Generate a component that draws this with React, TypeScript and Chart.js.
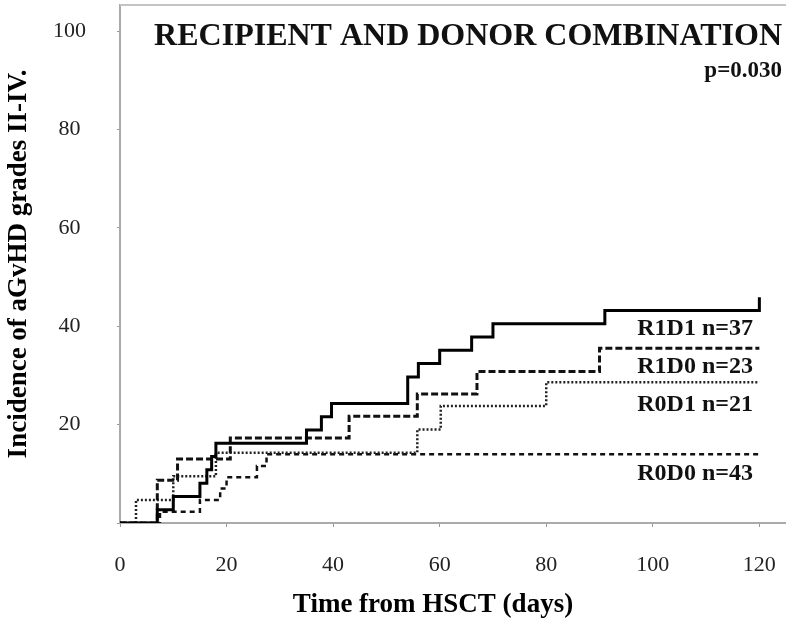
import React, { useEffect, useRef } from "react";
import { Chart, registerables } from "chart.js";

Chart.register(...registerables);

// ---- data ----
const r1d1Days = [0, 7, 10, 15, 16.3, 17.2, 18, 35, 37.8, 39.7, 54, 56, 60, 66, 70, 91, 120];
const r1d1Inc = [0, 2.7, 5.4, 8.1, 10.8, 13.5, 16.2, 18.9, 21.6, 24.3, 29.7, 32.4, 35.1, 37.8, 40.5, 43.2, 45.9];

const r1d0Days = [0, 7, 10.8, 20.7, 43, 55.8, 67, 90, 120];
const r1d0Inc = [0, 8.7, 13.0, 17.3, 21.7, 26.2, 30.8, 35.5, 35.5];

const r0d1Days = [0, 3, 10, 18, 55.8, 60.2, 80, 120];
const r0d1Inc = [0, 4.7, 9.5, 14.3, 19.0, 23.8, 28.6, 28.6];

const r0d0Days = [0, 7.5, 15, 18.8, 20, 25.7, 27.5, 120];
const r0d0Inc = [0, 2.3, 4.7, 7.0, 9.3, 11.6, 14.0, 14.0];

const seriesNames = ["R1D1 n=37", "R1D0 n=23", "R0D1 n=21", "R0D0 n=43"];
const seriesLabelY = [38.2, 30.5, 22.8, 8.7];
const seriesLabelX = 118.8;

const xTicks = [0, 20, 40, 60, 80, 100, 120];
const yTicks = [0, 20, 40, 60, 80, 100];

const chartTitle = "RECIPIENT AND DONOR COMBINATION";
const pValue = "p=0.030";
const xTitle = "Time from HSCT (days)";
const yTitle = "Incidence of aGvHD grades II-IV.";

const FONT = "'Liberation Serif', 'Times New Roman', serif";

const toPts = (xs: number[], ys: number[]) => xs.map((x, i) => ({ x, y: ys[i] }));

const overlayPlugin = {
  id: "overlay",
  afterDraw(chart: any) {
    const { ctx, chartArea, scales } = chart;
    ctx.save();
    // top border
    ctx.strokeStyle = "#c4c4c4";
    ctx.lineWidth = 2;
    ctx.beginPath();
    ctx.moveTo(chartArea.left, chartArea.top);
    ctx.lineTo(chartArea.right, chartArea.top);
    ctx.stroke();

    ctx.fillStyle = "#111";
    ctx.textAlign = "right";
    ctx.textBaseline = "alphabetic";
    ctx.font = `bold 32px ${FONT}`;
    ctx.fillText(chartTitle, chartArea.right - 4, chartArea.top + 40);
    ctx.font = `bold 23px ${FONT}`;
    ctx.fillText(pValue, chartArea.right - 4, chartArea.top + 72);

    ctx.font = `bold 24px ${FONT}`;
    seriesNames.forEach((name, i) => {
      const px = scales.x.getPixelForValue(seriesLabelX);
      const py = scales.y.getPixelForValue(seriesLabelY[i]);
      ctx.fillText(name, px, py);
    });

    // x axis title
    ctx.fillStyle = "#000";
    ctx.textAlign = "center";
    ctx.font = `bold 27px ${FONT}`;
    ctx.fillText(xTitle, 433, chart.height - 8);
    ctx.restore();
  },
};

export default function App() {
  const canvasRef = useRef<HTMLCanvasElement>(null);

  useEffect(() => {
    document.body.style.margin = "0";
    const canvas = canvasRef.current!;
    const chart = new Chart(canvas, {
      type: "line",
      data: {
        datasets: [
          {
            label: seriesNames[0],
            data: toPts(r1d1Days, r1d1Inc),
            borderColor: "#000",
            borderWidth: 3,
            stepped: "before",
            pointRadius: 0,
            fill: false,
          },
          {
            label: seriesNames[1],
            data: toPts(r1d0Days, r1d0Inc),
            borderColor: "#111",
            borderWidth: 3,
            borderDash: [7, 3],
            stepped: "before",
            pointRadius: 0,
            fill: false,
          },
          {
            label: seriesNames[2],
            data: toPts(r0d1Days, r0d1Inc),
            borderColor: "#222",
            borderWidth: 2.5,
            borderDash: [2, 2],
            stepped: "before",
            pointRadius: 0,
            fill: false,
          },
          {
            label: seriesNames[3],
            data: toPts(r0d0Days, r0d0Inc),
            borderColor: "#111",
            borderWidth: 2.5,
            borderDash: [5, 4],
            stepped: "before",
            pointRadius: 0,
            fill: false,
          },
        ],
      },
      options: {
        responsive: false,
        animation: false,
        devicePixelRatio: 1,
        layout: { padding: { top: 5, left: 0, right: 0, bottom: 0 } },
        plugins: {
          legend: { display: false },
          tooltip: { enabled: false },
          title: { display: false },
        },
        scales: {
          x: {
            type: "linear",
            min: 0,
            max: 125,
            afterBuildTicks: (s: any) => {
              s.ticks = xTicks.map((v) => ({ value: v }));
            },
            afterFit: (s: any) => {
              s.height = 97;
              s.paddingLeft = 0;
              s.paddingRight = 0;
            },
            ticks: {
              font: { family: FONT, size: 22 },
              color: "#222",
              padding: 25,
              maxRotation: 0,
              autoSkip: false,
            },
            grid: {
              display: true,
              drawOnChartArea: false,
              tickLength: 4,
              color: "#999",
              lineWidth: 1,
            },
            border: { color: "#aaa", width: 2 },
            title: { display: false, text: xTitle },
          },
          y: {
            type: "linear",
            min: 0,
            max: 105.3,
            afterBuildTicks: (s: any) => {
              s.ticks = yTicks.map((v) => ({ value: v }));
            },
            afterFit: (s: any) => {
              s.width = 120;
              s.paddingTop = 0;
              s.paddingBottom = 0;
            },
            ticks: {
              font: { family: FONT, size: 22 },
              color: "#222",
              padding: 31,
              crossAlign: "center",
              callback: (v: any) => (v === 0 ? "" : String(v)),
            },
            grid: {
              display: true,
              drawOnChartArea: false,
              tickLength: 3,
              color: "#999",
              lineWidth: 1,
            },
            border: { color: "#aaa", width: 2 },
            title: {
              display: true,
              text: yTitle,
              font: { family: FONT, size: 27, weight: "bold" },
              color: "#000",
              padding: { top: 3, bottom: 0 },
            },
          },
        },
      },
      plugins: [overlayPlugin],
    } as any);
    return () => chart.destroy();
  }, []);

  return (
    <div style={{ width: 786, height: 620 }}>
      <canvas ref={canvasRef} width={786} height={620} style={{ width: 786, height: 620, display: "block" }} />
    </div>
  );
}
